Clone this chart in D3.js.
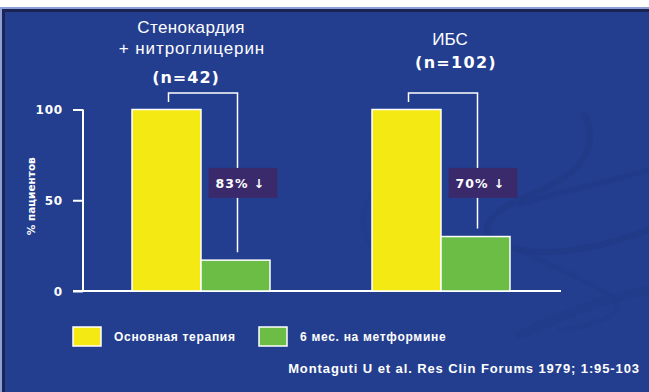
<!DOCTYPE html>
<html>
<head>
<meta charset="utf-8">
<script src="https://cdn.jsdelivr.net/npm/d3@7"></script>
<style>
html,body{margin:0;padding:0;background:#fff;}
svg{display:block;}
</style>
</head>
<body>
<svg id="chart" width="649" height="392"></svg>
<script>
// ---- data ----
const groups = ["g1", "g2"];
const groupTitles = [["Стенокардия", "+ нитроглицерин"], ["ИБС"]];
const groupN = ["(n=42)", "(n=102)"];
const series = ["Основная терапия", "6 мес. на метформине"];
const baseValues = [100, 100];
const metforminValues = [17, 30];
const reductionLabels = ["83%", "70%"];
const yTicks = [0, 50, 100];
const yLabel = "% пациентов";
const citation = "Montaguti U et al. Res Clin Forums 1979; 1:95-103";
const colors = ["#f5e914", "#6cbd45"];

const W = 649, H = 392;
const svg = d3.select("#chart");

// ---- background panel ----
svg.append("rect").attr("x", 0).attr("y", 0).attr("width", W).attr("height", H).attr("fill", "#ffffff");
svg.append("rect").attr("x", 0).attr("y", 7).attr("width", W).attr("height", H - 7).attr("fill", "#8d9fd6");
svg.append("rect").attr("x", 2).attr("y", 9).attr("width", W - 2).attr("height", H - 9).attr("fill", "#1b2553");
svg.append("rect").attr("x", 5).attr("y", 12).attr("width", W - 5).attr("height", H - 12).attr("fill", "#233e8f");

// faint swirl decorations
const deco = svg.append("g").attr("fill", "none").attr("stroke", "#1f3883").attr("stroke-linecap", "round");
deco.append("path").attr("d", "M585,115 C600,150 580,175 530,195 C480,215 470,240 520,250 C570,258 620,240 649,230")
  .attr("stroke-width", 6).attr("opacity", 0.45);
deco.append("path").attr("d", "M649,170 C600,185 540,195 520,205")
  .attr("stroke-width", 5).attr("opacity", 0.4);
deco.append("path").attr("d", "M520,250 C560,270 600,285 615,300 C625,312 600,325 560,330")
  .attr("stroke-width", 5).attr("opacity", 0.35);
deco.append("path").attr("d", "M649,290 C600,300 560,315 520,335")
  .attr("stroke-width", 9).attr("opacity", 0.25);
deco.append("path").attr("d", "M372,195 C360,210 360,235 375,250")
  .attr("stroke-width", 5).attr("opacity", 0.3);

// ---- scales ----
const x0 = d3.scaleBand().domain(groups).range([132, 510]).paddingInner(0.425).paddingOuter(0);
const x1 = d3.scaleBand().domain(series).range([0, x0.bandwidth()]).padding(0);
const y = d3.scaleLinear().domain([0, 100]).range([291, 109.5]);

// ---- y axis ----
const axisG = svg.append("g").attr("transform", "translate(83,0)");
const yAxis = d3.axisLeft(y).tickValues(yTicks).tickSize(10).tickPadding(10).tickFormat(d3.format("d"));
axisG.call(yAxis);
axisG.select(".domain").attr("stroke", "#fff").attr("stroke-width", 2).attr("d", `M0,${y(100)}V${y(0)}`);
axisG.selectAll(".tick line").attr("stroke", "#fff").attr("stroke-width", 2);
axisG.selectAll(".tick text").attr("fill", "#fff").attr("font-family", "DejaVu Sans").attr("font-weight", "bold")
  .attr("font-size", 12).attr("letter-spacing", 0.8).attr("dy", "0.36em");

// baseline
svg.append("line").attr("x1", 73).attr("x2", 561).attr("y1", y(0)).attr("y2", y(0))
  .attr("stroke", "#fff").attr("stroke-width", 2.2);

// y label
svg.append("text").attr("transform", `translate(35,${(y(0) + y(100)) / 2 - 4}) rotate(-90)`)
  .attr("text-anchor", "middle").attr("fill", "#fff").attr("font-family", "DejaVu Sans").attr("font-weight", "bold")
  .attr("font-size", 10.5).attr("letter-spacing", 0).text(yLabel);

// ---- bars ----
const rows = groups.map((g, i) => ({ g, i, vals: [baseValues[i], metforminValues[i]] }));
const gg = svg.selectAll(".grp").data(rows).join("g").attr("class", "grp")
  .attr("transform", d => `translate(${x0(d.g)},0)`);
gg.selectAll("rect.bar").data(d => d.vals.map((v, k) => ({ v, k, s: series[k] }))).join("rect")
  .attr("class", "bar")
  .attr("x", d => x1(d.s)).attr("width", x1.bandwidth())
  .attr("y", d => y(d.v)).attr("height", d => y(0) - y(d.v))
  .attr("fill", d => colors[d.k]).attr("stroke", "#fff").attr("stroke-width", 1.5);

// ---- brackets and reduction labels ----
rows.forEach(d => {
  const g = svg.append("g");
  const xl = x0(d.g) + x1(series[0]) + x1.bandwidth() / 2 + 2;
  const xr = x0(d.g) + x1(series[1]) + x1.bandwidth() / 2 + 2;
  const yTop = y(d.vals[0]) - 16.5;
  g.append("path")
    .attr("d", `M${xl},${y(d.vals[0]) - 7.5}V${yTop}H${xr}V${y(d.vals[1]) - 8}`)
    .attr("fill", "none").attr("stroke", "#fff").attr("stroke-width", 1.5);
  const bx = xr - 29, by = y(59) - 16, bw = 69, bh = 30;
  g.append("rect").attr("x", bx).attr("y", by).attr("width", bw).attr("height", bh).attr("fill", "#3a2a6c");
  g.append("text").attr("x", bx + 7).attr("y", by + bh / 2 + 5)
    .attr("fill", "#fff").attr("font-family", "DejaVu Sans").attr("font-weight", "bold")
    .attr("font-size", 12.5).attr("letter-spacing", 1)
    .text(reductionLabels[d.i] + " ↓");
});

// ---- group titles ----
const titleFont = "Liberation Sans";
const t1x = x0("g1") + x0.bandwidth() / 2 - 10;
const t2x = x0("g2") + x0.bandwidth() / 2 + 10;
const tg = svg.append("g").attr("fill", "#fff").attr("text-anchor", "middle");
tg.append("text").attr("x", t1x).attr("y", 33).attr("font-family", titleFont).attr("font-size", 17)
  .attr("letter-spacing", 0.4).text(groupTitles[0][0]);
tg.append("text").attr("x", t1x + 1).attr("y", 54).attr("font-family", titleFont).attr("font-size", 17)
  .attr("letter-spacing", 0.9).text(groupTitles[0][1]);
tg.append("text").attr("x", t1x - 5).attr("y", 83).attr("font-family", "DejaVu Sans").attr("font-weight", "bold")
  .attr("font-size", 16).attr("letter-spacing", 1).text(groupN[0]);
tg.append("text").attr("x", t2x - 1).attr("y", 45).attr("font-family", titleFont).attr("font-size", 17)
  .text(groupTitles[1][0]);
tg.append("text").attr("x", t2x + 5).attr("y", 68).attr("font-family", "DejaVu Sans").attr("font-weight", "bold")
  .attr("font-size", 16).attr("letter-spacing", 1.3).text(groupN[1]);

// ---- legend ----
const legX = [73, 259];
const lg = svg.selectAll(".leg").data(series).join("g").attr("class", "leg")
  .attr("transform", (d, i) => `translate(${legX[i]},327)`);
lg.append("rect").attr("width", 28).attr("height", 19).attr("fill", (d, i) => colors[i])
  .attr("stroke", "#fff").attr("stroke-width", 1.5);
lg.append("text").attr("x", 41).attr("y", 14).attr("fill", "#fff")
  .attr("font-family", "Liberation Sans").attr("font-weight", "bold").attr("font-size", 12)
  .attr("letter-spacing", 0.7).text(d => d);

// ---- citation ----
svg.append("text").attr("x", 640).attr("y", 373).attr("text-anchor", "end").attr("fill", "#fff")
  .attr("font-family", "Liberation Sans").attr("font-weight", "bold").attr("font-size", 13)
  .attr("letter-spacing", 0.9).text(citation);
</script>
</body>
</html>
